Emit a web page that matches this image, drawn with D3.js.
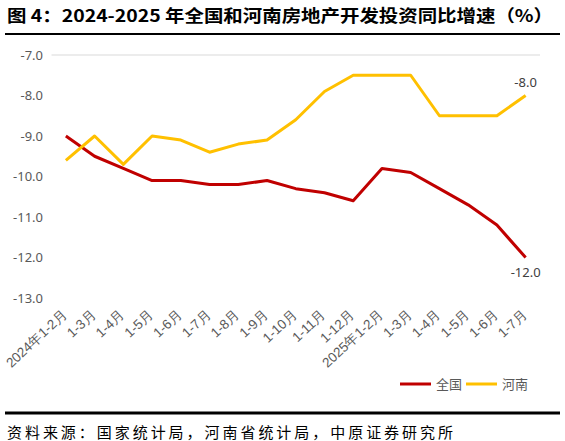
<!DOCTYPE html>
<html><head><meta charset="utf-8">
<script src="https://cdn.jsdelivr.net/npm/d3@7/dist/d3.min.js"></script>
<style>
body{margin:0;background:#fff;}
svg{display:block;font-family:"Noto Sans CJK SC","Noto Sans",sans-serif;}
</style></head>
<body><svg id="c" width="565" height="441"></svg>
<script>
const categories = ["2024年1-2月","1-3月","1-4月","1-5月","1-6月","1-7月","1-8月","1-9月","1-10月","1-11月","1-12月","2025年1-2月","1-3月","1-4月","1-5月","1-6月","1-7月"];
const nationalValues = [-9.0,-9.5,-9.8,-10.1,-10.1,-10.2,-10.2,-10.1,-10.3,-10.4,-10.6,-9.8,-9.9,-10.3,-10.7,-11.2,-12.0];
const henanValues = [-9.6,-9.0,-9.7,-9.0,-9.1,-9.4,-9.2,-9.1,-8.6,-7.9,-7.5,-7.5,-7.5,-8.5,-8.5,-8.5,-8.0];
const yTicks = [-7,-8,-9,-10,-11,-12,-13];
const seriesNames = ["全国","河南"];
const title = "图 4：2024-2025 年全国和河南房地产开发投资同比增速（%）";
const source = "资料来源：国家统计局，河南省统计局，中原证券研究所";

const svg = d3.select("#c");
const colors = ["#C00000","#FFC000"];
const idx = categories.map((d,i)=>i);
const x = d3.scaleBand().domain(idx).range([51.5,540]);
const y = d3.scaleLinear().domain([-13,-7]).range([298,55]);
const cx = i => x(i) + x.bandwidth()/2;
const fmt = v => d3.format(".1f")(v).replace("−","-");

// title
svg.append("text").attr("x",7).attr("y",22).attr("font-size",17).attr("font-weight","bold")
  .attr("fill","#000").attr("textLength",546).attr("lengthAdjust","spacingAndGlyphs").text(title);
svg.append("line").attr("x1",5).attr("x2",560).attr("y1",34).attr("y2",34).attr("stroke","#000").attr("stroke-width",2);

// gridline at top
svg.append("line").attr("x1",51.5).attr("x2",540).attr("y1",y(-7)).attr("y2",y(-7)).attr("stroke","#D9D9D9").attr("stroke-width",1);

// y axis
const yAxis = d3.axisLeft(y).tickValues(yTicks).tickFormat(fmt).tickSize(0).tickPadding(0);
const ga = svg.append("g").attr("transform","translate(43,0)").call(yAxis);
ga.select(".domain").remove();
ga.selectAll("text").attr("font-size",13).attr("fill","#595959").attr("font-family","'Noto Sans','Liberation Sans',sans-serif");

// x axis labels
const xAxis = d3.axisBottom(x).tickFormat(i=>categories[i]).tickSize(0).tickPadding(0);
const gx = svg.append("g").attr("transform","translate(0,312)").call(xAxis);
gx.select(".domain").remove();
gx.selectAll("text").attr("font-size",13.5).attr("fill","#595959")
  .attr("text-anchor","end").attr("dy","0.35em")
  .attr("transform","translate(-1,0) rotate(-43)");

// lines
const line = d3.line().x((d,i)=>cx(i)).y(d=>y(d));
[nationalValues, henanValues].forEach((vals,k)=>{
  svg.append("path").datum(vals).attr("d",line).attr("fill","none")
    .attr("stroke",colors[k]).attr("stroke-width",3).attr("stroke-linejoin","round");
});

// data labels
const last = categories.length-1;
svg.append("text").attr("x",cx(last)).attr("y",y(henanValues[last])-9).attr("text-anchor","middle")
  .attr("font-size",13).attr("fill","#404040").attr("font-family","'Noto Sans',sans-serif").text(fmt(henanValues[last]));
svg.append("text").attr("x",cx(last)).attr("y",y(nationalValues[last])+19).attr("text-anchor","middle")
  .attr("font-size",13).attr("fill","#404040").attr("font-family","'Noto Sans',sans-serif").text(fmt(nationalValues[last]));

// legend
const lg = svg.append("g");
const lx = [400,466];
seriesNames.forEach((n,k)=>{
  lg.append("line").attr("x1",lx[k]).attr("x2",lx[k]+31).attr("y1",384).attr("y2",384).attr("stroke",colors[k]).attr("stroke-width",3);
  lg.append("text").attr("x",lx[k]+36).attr("y",384).attr("dy","0.35em").attr("font-size",13).attr("fill","#595959").text(n);
});

// bottom rule and source
svg.append("line").attr("x1",5).attr("x2",560).attr("y1",413).attr("y2",413).attr("stroke","#000").attr("stroke-width",3);
svg.append("text").attr("x",7).attr("y",438).attr("font-size",15).attr("fill","#000")
  .attr("textLength",446).attr("lengthAdjust","spacing").text(source);
</script></body></html>
